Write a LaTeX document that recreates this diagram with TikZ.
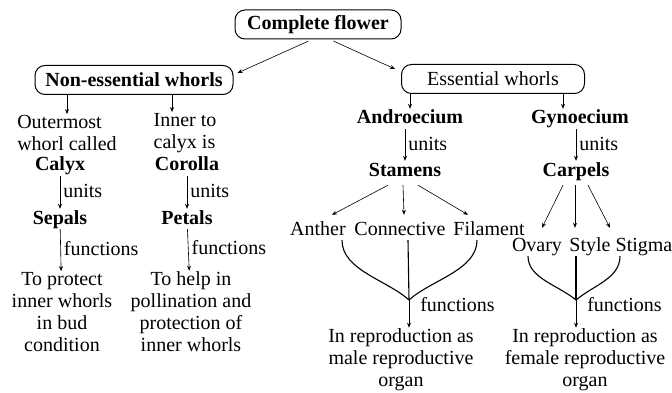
\documentclass[tikz,border=0pt]{standalone}
\usepackage{fontspec}
\setmainfont{Liberation Serif}
\usetikzlibrary{positioning,arrows.meta}

\begin{document}
\begin{tikzpicture}[
  x=1pt, y=-1pt,
  every node/.style={font=\fontsize{20}{22}\selectfont},
  whorlbox/.style={
    draw,
    line width=1pt,
    rounded corners=10pt,
    minimum height=29pt,
    inner xsep=6pt,
    font=\fontsize{20}{22}\selectfont\bfseries
  },
  word/.style={inner sep=1pt, text height=14pt, text depth=4pt},
  part/.style={word, font=\fontsize{20}{22}\selectfont\bfseries},
  para/.style={inner sep=1pt, align=center},
  arr/.style={-{Stealth[length=5pt,width=4pt]}, semithick},
  curve/.style={line width=1.1pt}
]
\useasboundingbox (0,0) rectangle (672,393);

% top level
\node[whorlbox, minimum width=166pt] (flower) at (318,24.5) {Complete flower};
\node[whorlbox, minimum width=198pt] (nonessential) at (134,80) {Non-essential whorls};
\node[whorlbox, minimum width=183pt, font=\fontsize{20}{22}\selectfont] (essential) at (493,79) {Essential whorls};

\draw[arr, shorten <=4pt] ([xshift=-6pt]flower.south) -- ([shift={(4,8)}]nonessential.north east);
\draw[arr, shorten <=4pt] ([xshift=12pt]flower.south) -- ([shift={(-6,5)}]essential.north west);

% non-essential whorls
\node[para, align=left] (outermost) at (67,133) {Outermost\\whorl called};
\node[part] (calyx) at (60,166) {Calyx};
\node[part] (sepals) at (60,219) {Sepals};
\node[para] (protect) at (62,312) {To protect\\inner whorls\\in bud\\condition};

\node[para, align=left] (innercalyx) at (185,133) {Inner to\\calyx is};
\node[part] (corolla) at (187,166) {Corolla};
\node[part] (petals) at (187,219) {Petals};
\node[para] (help) at (191,312) {To help in\\pollination and\\protection of\\inner whorls};

\coordinate (innerarr) at ([xshift=-13pt]innercalyx.north);
\draw[arr] (nonessential.south -| outermost) -- (outermost);
\draw[arr] (innerarr |- nonessential.south) -- (innerarr);
\draw[arr] (calyx) -- node[word, right=2pt] {units} (sepals);
\draw[arr] (corolla) -- node[word, right=2pt] {units} (petals);
\draw[arr] (sepals) -- node[word, right=2pt] {functions} (protect);
\draw[arr] (petals) -- node[word, right=2pt] {functions} (help);

% essential whorls
\node[part] (androecium) at (410,119) {Androecium};
\node[part] (gynoecium) at (580,119) {Gynoecium};
\node[part] (stamens) at (405,171) {Stamens};
\node[part] (carpels) at (576,171) {Carpels};

\coordinate (gynoarr) at ([xshift=-17pt]gynoecium.north);
\draw[arr] (essential.south -| androecium) -- (androecium);
\draw[arr] (gynoarr |- essential.south) -- (gynoarr);
\draw[arr] (androecium.south -| stamens) -- node[word, right=2pt] {units} (stamens);
\draw[arr] (gynoecium.south -| carpels) -- node[word, right=2pt] {units} (carpels);

\node[word] (anther) at (318,230) {Anther};
\node[word] (connective) at (400,230) {Connective};
\node[word] (filament) at (489,230) {Filament};
\node[word] (ovary) at (537,246) {Ovary};
\node[word] (style) at (590,246) {Style};
\node[word] (stigma) at (644,246) {Stigma};

\draw[arr] ([shift={(-17,4)}]stamens.south) -- ([shift={(14,-5)}]anther.north);
\draw[arr] ([shift={(-2,4)}]stamens.south) -- ([shift={(4,-5)}]connective.north);
\draw[arr] ([shift={(13,4)}]stamens.south) -- ([shift={(-21,-5)}]filament.north);
\draw[arr] ([shift={(-13,4)}]carpels.south) -- ([shift={(5,-8)}]ovary.north);
\draw[arr] ([shift={(-1,4)}]carpels.south) -- ([shift={(-15,-8)}]style.north);
\draw[arr] ([shift={(12,4)}]carpels.south) -- ([shift={(-34,-8)}]stigma.north);

\node[para] (male) at (401,360) {In reproduction as\\male reproductive\\organ};
\node[para] (female) at (585,360) {In reproduction as\\female reproductive\\organ};

% merging curves
\coordinate (amerge) at (409,300);
\coordinate (gmerge) at (576,300);
\draw[curve] ([xshift=24pt]anther.south) .. controls +(0,30) and +(-22,-20) .. (amerge);
\draw[curve] ([xshift=8pt]connective.south) -- (amerge);
\draw[curve] ([xshift=-12pt]filament.south) .. controls +(0,30) and +(22,-20) .. (amerge);
\draw[curve] ([xshift=-9pt]ovary.south) .. controls +(0,22) and +(-18,-15) .. (gmerge);
\draw[curve] ([xshift=-14pt]style.south) -- (gmerge);
\draw[curve] ([xshift=-24pt]stigma.south) .. controls +(0,22) and +(18,-15) .. (gmerge);

\draw[arr] (amerge) -- node[word, pos=0.25, right=10pt] {functions} (male.north -| amerge);
\draw[arr] (gmerge) -- node[word, pos=0.25, right=10pt] {functions} (female.north -| gmerge);
\end{tikzpicture}
\end{document}
